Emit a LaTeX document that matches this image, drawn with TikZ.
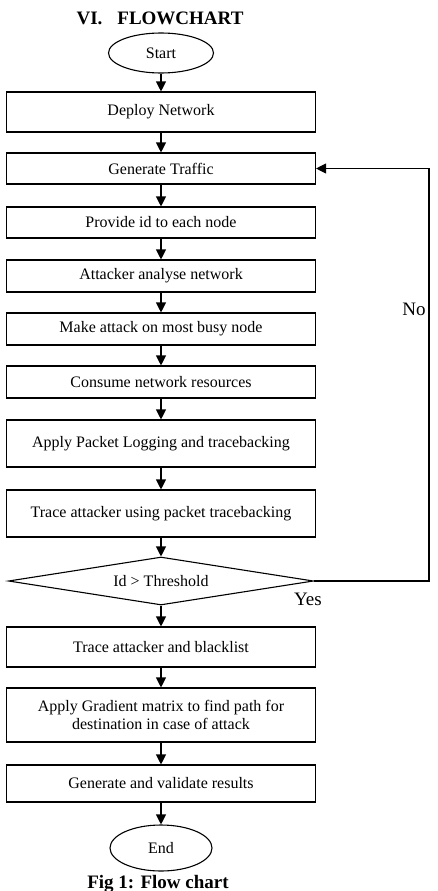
\documentclass[tikz,border=0pt]{standalone}
\usepackage{fontspec}
\setmainfont{Liberation Serif}
\usetikzlibrary{shapes.geometric,arrows.meta}

\begin{document}
\begin{tikzpicture}[x=1pt,y=-1pt]
			\tikzstyle{every node}=[font=\fontsize{16}{18}\selectfont]
			\tikzstyle{process}=[draw,rectangle,line width=1.1pt,minimum width=309pt,inner sep=0pt,align=center]
			\tikzstyle{terminal}=[draw,ellipse,line width=1.1pt,minimum width=105pt,minimum height=40pt,inner sep=0pt]
			\tikzstyle{decision}=[draw,diamond,aspect=6.35,line width=1.1pt,minimum width=305pt,minimum height=48pt,inner sep=0pt]
			\tikzstyle{flow}=[line width=1.1pt,-{Triangle[width=10pt,length=10pt]}]
			\tikzstyle{big}=[font=\fontsize{19}{22}\selectfont]
			\useasboundingbox (0,0) rectangle (437,891);
			\node[big,anchor=base] (title) at (160,25) {\bfseries VI.\hspace*{15pt}FLOWCHART};
			\node[terminal] (start) at (161,53) {Start};
			\node[process,minimum height=40pt] (deploy) at (161,112) {Deploy Network};
			\node[process,minimum height=31pt] (traffic) at (161,168.5) {Generate Traffic};
			\node[process,minimum height=31pt] (provide) at (161,222.5) {Provide id to each node};
			\node[process,minimum height=32pt] (analyse) at (161,276) {Attacker analyse network};
			\node[process,minimum height=32pt] (attack) at (161,329) {Make attack on most busy node};
			\node[process,minimum height=32pt] (consume) at (161,382) {Consume network resources};
			\node[process,minimum height=47pt] (logging) at (161,443.5) {Apply Packet Logging and tracebacking};
			\node[process,minimum height=47pt] (trace) at (161,513.5) {Trace attacker using packet tracebacking};
			\node[decision] (check) at (161,581) {Id > Threshold};
			\node[process,minimum height=40pt] (blacklist) at (161,647) {Trace attacker and blacklist};
			\node[process,minimum height=54pt] (gradient) at (161,715) {Apply Gradient matrix to find path for\\destination in case of attack};
			\node[process,minimum height=37pt] (results) at (161,783.5) {Generate and validate results};
			\node[terminal,minimum width=102pt,minimum height=46pt] (end) at (161,848) {End};
			\node[big,anchor=base] (caption) at (158,888) {\bfseries Fig 1: Flow chart};
			% main flow
			\draw[flow] (start) -- (deploy);
			\draw[flow] (deploy) -- (traffic);
			\draw[flow] (traffic) -- (provide);
			\draw[flow] (provide) -- (analyse);
			\draw[flow] (analyse) -- (attack);
			\draw[flow] (attack) -- (consume);
			\draw[flow] (consume) -- (logging);
			\draw[flow] (logging) -- (trace);
			\draw[flow] (trace) -- (check);
			\draw[flow] (check) -- (blacklist);
			\draw[flow] (blacklist) -- (gradient);
			\draw[flow] (gradient) -- (results);
			\draw[flow] (results) -- (end);
			% loop back
			\coordinate (back) at (429,581);
			\draw[flow] (check.east) -- (back) |- (traffic.east);
			\node[big,anchor=base] (no) at (414,315) {No};
			\node[big,anchor=base] (yes) at (308,605) {Yes};
\end{tikzpicture}
\end{document}
